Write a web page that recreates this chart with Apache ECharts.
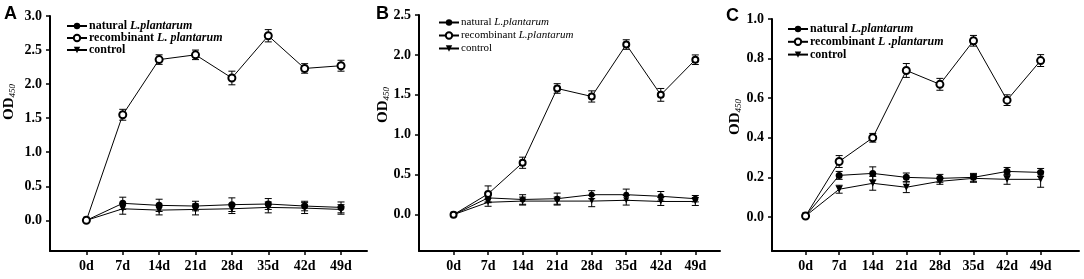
<!DOCTYPE html>
<html lang="en">
<head>
  <meta charset="UTF-8">
  <title>OD450 time course</title>
</head>
<body style="margin:0; background-color:#ffffff;">
<div id="main" style="width:1084px; height:279px;"></div>

<script src="https://cdn.jsdelivr.net/npm/echarts@6/dist/echarts.min.js"></script>

<script>
var days = [0, 7, 14, 21, 28, 35, 42, 49];

// panel A
var aNatural = [0, 0.25, 0.22, 0.21, 0.23, 0.24, 0.21, 0.19];
var aNaturalErr = [0, 0.09, 0.09, 0.07, 0.10, 0.08, 0.07, 0.08];
var aRecomb = [0, 1.55, 2.36, 2.43, 2.09, 2.71, 2.23, 2.27];
var aRecombErr = [0, 0.08, 0.07, 0.07, 0.10, 0.09, 0.07, 0.08];
var aControl = [0, 0.17, 0.15, 0.16, 0.17, 0.19, 0.18, 0.16];
var aControlErr = [0, 0.08, 0.07, 0.08, 0.07, 0.08, 0.08, 0.07];

// panel B
var bNatural = [0, 0.21, 0.19, 0.20, 0.25, 0.25, 0.23, 0.20];
var bNaturalErr = [0, 0.06, 0.06, 0.07, 0.05, 0.07, 0.06, 0.04];
var bRecomb = [0, 0.26, 0.65, 1.58, 1.48, 2.13, 1.50, 1.94];
var bRecombErr = [0, 0.10, 0.07, 0.06, 0.07, 0.06, 0.08, 0.06];
var bControl = [0, 0.155, 0.17, 0.17, 0.17, 0.18, 0.165, 0.165];
var bControlErr = [0, 0.05, 0.05, 0.05, 0.07, 0.06, 0.05, 0.05];

// panel C
var cNatural = [0.005, 0.21, 0.22, 0.20, 0.195, 0.20, 0.23, 0.225];
var cNaturalErr = [0, 0.02, 0.033, 0.022, 0.02, 0.02, 0.02, 0.02];
var cRecomb = [0.005, 0.28, 0.40, 0.74, 0.67, 0.89, 0.59, 0.79];
var cRecombErr = [0, 0.03, 0.022, 0.035, 0.03, 0.027, 0.027, 0.03];
var cControl = [0.005, 0.14, 0.17, 0.15, 0.18, 0.195, 0.19, 0.19];
var cControlErr = [0, 0.02, 0.035, 0.027, 0.015, 0.02, 0.025, 0.04];

var aTicks = [0, 0.5, 1.0, 1.5, 2.0, 2.5, 3.0];
var bTicks = [0, 0.5, 1.0, 1.5, 2.0, 2.5];
var cTicks = [0, 0.2, 0.4, 0.6, 0.8, 1.0];

var chart = echarts.init(document.getElementById('main'));
var serif = '"Liberation Serif", "Times New Roman", serif';

var panels = [
  { letter: 'A', grid: { left: 50, top: 16, width: 317, height: 235 }, xMax: 54, yMin: -0.45, yMax: 3.0, ticks: aTicks,
    names: ['natural L.plantarum', 'recombinant L. plantarum', 'control'],
    values: [aNatural, aRecomb, aControl], errs: [aNaturalErr, aRecombErr, aControlErr],
    sym: 7, legend: { left: 61, top: 15, gap: 0, size: 12, weight: 'bold' },
    letterPos: [4, 5], odPos: [9, 102] },
  { letter: 'B', grid: { left: 419, top: 15, width: 301, height: 236 }, xMax: 54, yMin: -0.455, yMax: 2.5, ticks: bTicks,
    names: ['natural L.plantarum', 'recombinant L.plantarum', 'control'],
    values: [bNatural, bRecomb, bControl], errs: [bNaturalErr, bRecombErr, bControlErr],
    sym: 6, legend: { left: 433, top: 12, gap: 2, size: 11, weight: 'normal' },
    letterPos: [376, 5], odPos: [383, 105] },
  { letter: 'C', grid: { left: 772, top: 19, width: 307, height: 232 }, xMax: 57, yMin: -0.172, yMax: 1.0, ticks: cTicks,
    names: ['natural L.plantarum', 'recombinant L .plantarum', 'control'],
    values: [cNatural, cRecomb, cControl], errs: [cNaturalErr, cRecombErr, cControlErr],
    sym: 7, legend: { left: 782, top: 18, gap: 0.8, size: 12, weight: 'bold' },
    letterPos: [726, 7], odPos: [735, 117] }
];

var symbols = ['circle', 'emptyCircle', 'triangle'];
var rotates = [0, 0, 180];

var grids = [], xAxes = [], yAxes = [], series = [], legends = [], graphics = [];

function errorRender(params, api) {
  var x = api.value(0), y = api.value(1), e = api.value(2);
  var top = api.coord([x, y + e]);
  var bot = api.coord([x, y - e]);
  var w = 3.5;
  var st = { stroke: '#000', lineWidth: 1 };
  return {
    type: 'group',
    children: [
      { type: 'line', shape: { x1: top[0], y1: top[1], x2: bot[0], y2: bot[1] }, style: st },
      { type: 'line', shape: { x1: top[0] - w, y1: top[1], x2: top[0] + w, y2: top[1] }, style: st },
      { type: 'line', shape: { x1: bot[0] - w, y1: bot[1], x2: bot[0] + w, y2: bot[1] }, style: st }
    ]
  };
}

panels.forEach(function (p, gi) {
  grids.push(p.grid);
  xAxes.push({
    type: 'value', gridIndex: gi, min: -7, max: p.xMax,
    axisLine: { onZero: false, lineStyle: { color: '#000', width: 2 } },
    axisTick: { customValues: days, length: 4, lineStyle: { color: '#000', width: 1.5 } },
    axisLabel: { customValues: days, formatter: function (v) { return v + 'd'; },
      color: '#000', fontFamily: serif, fontWeight: 'bold', fontSize: 14, margin: 8 },
    splitLine: { show: false }
  });
  yAxes.push({
    type: 'value', gridIndex: gi, min: p.yMin, max: p.yMax,
    axisLine: { show: true, onZero: false, lineStyle: { color: '#000', width: 2 } },
    axisTick: { customValues: p.ticks, length: 4, lineStyle: { color: '#000', width: 1.5 } },
    axisLabel: { customValues: p.ticks, formatter: function (v) { return v.toFixed(1); },
      color: '#000', fontFamily: serif, fontWeight: 'bold', fontSize: 14, margin: 8 },
    splitLine: { show: false }
  });

  p.names.forEach(function (name, si) {
    series.push({
      name: name, type: 'line', xAxisIndex: gi, yAxisIndex: gi,
      data: days.map(function (d, k) { return [d, p.values[si][k]]; }),
      symbol: symbols[si], symbolRotate: rotates[si], symbolSize: p.sym,
      itemStyle: { color: '#000', borderWidth: 1 },
      lineStyle: { color: '#000', width: 1 },
      z: 3 + (si === 1 ? 1 : 0)
    });
    series.push({
      type: 'custom', xAxisIndex: gi, yAxisIndex: gi,
      data: days.map(function (d, k) { return [d, p.values[si][k], p.errs[si][k]]; }),
      renderItem: errorRender, z: 2, silent: true
    });
  });

  legends.push({
    orient: 'vertical', left: p.legend.left, top: p.legend.top,
    itemWidth: 20, itemHeight: 8, itemGap: p.legend.gap,
    data: p.names,
    selectedMode: false,
    formatter: function (name) { return name.replace(/(L\s?\.\s?plantarum)/, '{i|$1}'); },
    textStyle: {
      color: '#000', fontFamily: serif, fontSize: p.legend.size, fontWeight: p.legend.weight, lineHeight: 11,
      padding: [0, 0, 0, -3],
      rich: { i: { fontStyle: 'italic', fontFamily: serif, fontSize: p.legend.size, fontWeight: p.legend.weight, color: '#000' } }
    }
  });

  graphics.push({
    type: 'text', left: p.letterPos[0], top: p.letterPos[1],
    style: { text: p.letter, fill: '#000', font: 'bold 18px "Liberation Sans", Arial, sans-serif' }
  });
  graphics.push({
    type: 'text', x: p.odPos[0], y: p.odPos[1], rotation: Math.PI / 2,
    style: {
      text: 'OD{s|450}', fill: '#000', align: 'center', verticalAlign: 'middle',
      font: 'bold 15px ' + serif,
      rich: { s: { font: 'italic 9px ' + serif, fill: '#000', verticalAlign: 'bottom', padding: [7, 0, 0, 0] } }
    }
  });
});

chart.setOption({
  animation: false,
  backgroundColor: '#fff',
  grid: grids,
  xAxis: xAxes,
  yAxis: yAxes,
  legend: legends,
  graphic: graphics,
  series: series
});
</script>
</body>
</html>
